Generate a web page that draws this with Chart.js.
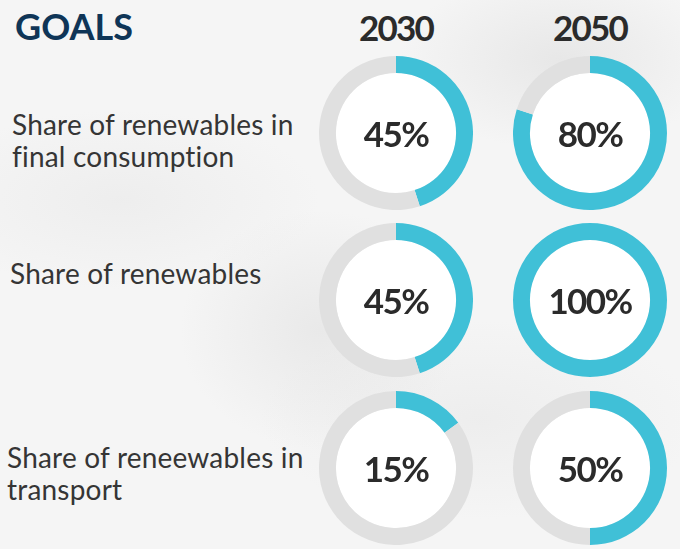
<!DOCTYPE html>
<html>
<head>
<meta charset="utf-8">
<title>Goals</title>
<script src="https://cdn.jsdelivr.net/npm/chart.js@4.4.0/dist/chart.umd.min.js"></script>
<style>
    body {
        margin: 0;
        width: 680px;
        height: 549px;
        overflow: hidden;
        position: relative;
        font-family: Lato, "Open Sans", sans-serif;
        background:
            radial-gradient(ellipse 160px 90px at 560px 60px, rgba(200,200,200,0.3), rgba(200,200,200,0) 100%),
            radial-gradient(ellipse 140px 120px at 320px 330px, rgba(205,205,205,0.3), rgba(205,205,205,0) 100%),
            radial-gradient(ellipse 200px 90px at 120px 200px, rgba(215,215,215,0.25), rgba(215,215,215,0) 100%),
            radial-gradient(ellipse 220px 100px at 480px 420px, rgba(215,215,215,0.25), rgba(215,215,215,0) 100%),
            #f5f5f5;
    }
    .title {
        position: absolute;
        left: 15px;
        top: 4px;
        font-size: 36px;
        line-height: 44px;
        font-weight: bold;
        color: #0f3557;
    }
    .year {
        position: absolute;
        top: 5px;
        width: 160px;
        text-align: center;
        font-size: 35px;
        line-height: 44px;
        font-weight: bold;
        letter-spacing: -1.8px;
        color: #2b2b2b;
    }
    .label {
        position: absolute;
        font-size: 28px;
        line-height: 32px;
        letter-spacing: 0.2px;
        color: #353535;
        white-space: nowrap;
    }
    .ring {
        position: absolute;
        width: 154px;
        height: 154px;
    }
    .value {
        position: absolute;
        left: 0;
        top: 0;
        width: 154px;
        height: 154px;
        line-height: 154px;
        text-align: center;
        font-size: 35px;
        font-weight: bold;
        letter-spacing: -1.6px;
        color: #2b2b2b;
    }
</style>
</head>
<body>
<div class="title">GOALS</div>

<script>
    // *** DATA ***
    var years = ['2030', '2050'];
    var goalLabels = [
        ['Share of renewables in', 'final consumption'],
        ['Share of renewables'],
        ['Share of reneewables in', 'transport']
    ];
    var values2030 = [45, 45, 15];
    var values2050 = [80, 100, 50];

    // *** LAYOUT ***
    var columnX = [396, 590];       // ring centers
    var rowY = [133, 300, 468];
    var labelPos = [[12, 108], [10, 257], [7, 441]];
    var fillColor = '#40c0d7';
    var trackColor = '#e0e0e0';

    // white disc behind the percentage
    var innerDisc = {
        id: 'innerDisc',
        beforeDatasetsDraw: function(chart) {
            var arc = chart.getDatasetMeta(0).data[0];
            if (!arc) return;
            var ctx = chart.ctx;
            ctx.save();
            ctx.beginPath();
            ctx.arc(arc.x, arc.y, arc.innerRadius, 0, Math.PI * 2);
            ctx.fillStyle = '#ffffff';
            ctx.fill();
            ctx.restore();
        }
    };

    for (var c = 0; c < years.length; c++) {
        var head = document.createElement('div');
        head.className = 'year';
        head.style.left = (columnX[c] - 80) + 'px';
        head.textContent = years[c];
        document.body.appendChild(head);
    }

    for (var r = 0; r < goalLabels.length; r++) {
        var lab = document.createElement('div');
        lab.className = 'label';
        lab.style.left = labelPos[r][0] + 'px';
        lab.style.top = labelPos[r][1] + 'px';
        lab.innerHTML = goalLabels[r].join('<br>');
        document.body.appendChild(lab);

        ringChart(columnX[0], rowY[r], values2030[r]);
        ringChart(columnX[1], rowY[r], values2050[r]);
    }

    function ringChart(cx, cy, value) {
        var box = document.createElement('div');
        box.className = 'ring';
        box.style.left = (cx - 77) + 'px';
        box.style.top = (cy - 77) + 'px';
        var canvas = document.createElement('canvas');
        box.appendChild(canvas);
        var text = document.createElement('div');
        text.className = 'value';
        text.textContent = value + '%';
        box.appendChild(text);
        document.body.appendChild(box);

        new Chart(canvas, {
            type: 'doughnut',
            data: {
                labels: ['Goal', 'Remaining'],
                datasets: [{
                    data: [value, 100 - value],
                    backgroundColor: [fillColor, trackColor],
                    borderWidth: 0
                }]
            },
            options: {
                responsive: true,
                maintainAspectRatio: false,
                animation: false,
                cutout: '78%',
                events: [],
                plugins: {
                    legend: { display: false },
                    tooltip: { enabled: false }
                }
            },
            plugins: [innerDisc]
        });
    }
</script>
</body>
</html>
